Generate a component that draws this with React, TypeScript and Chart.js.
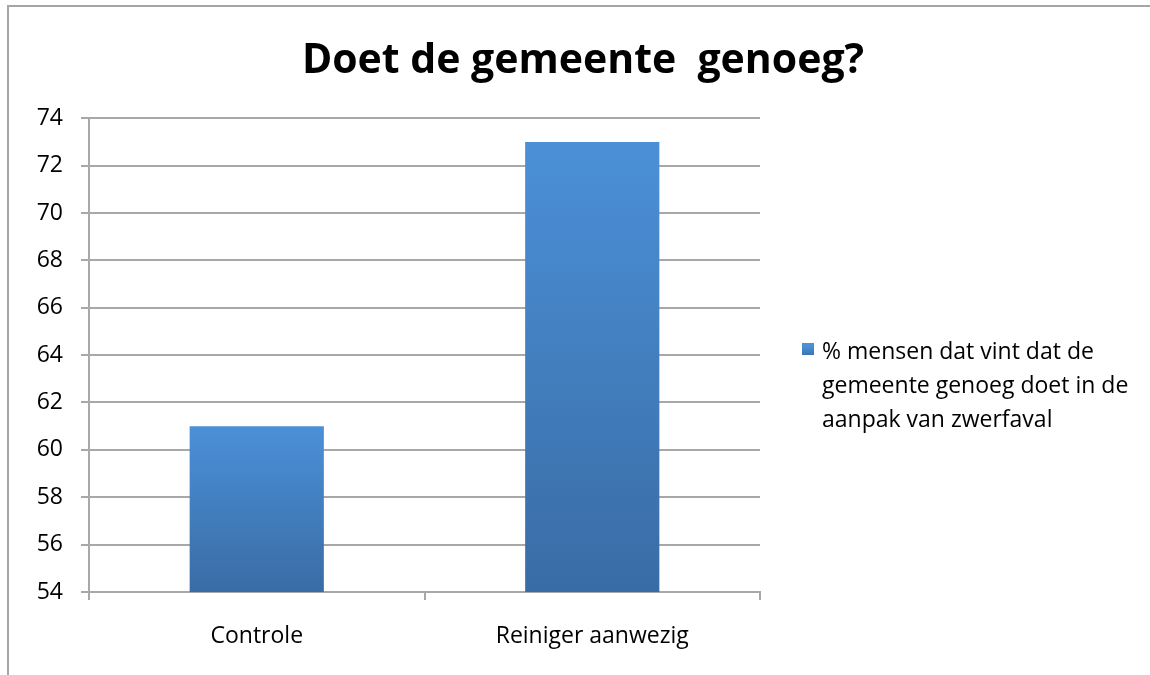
import React, { useEffect, useRef } from "react";
import { Chart, registerables } from "chart.js";

Chart.register(...registerables);

const categories = ["Controle", "Reiniger aanwezig"];
const seriesLabel = ["% mensen dat vint dat de", "gemeente genoeg doet in de", "aanpak van zwerfaval"];
const seriesValues = [61, 73];
const titleText = "Doet de gemeente  genoeg?";
const yMin = 54;
const yMax = 74;
const yStep = 2;

const FONT = "'Open Sans', Lato, sans-serif";
const TOP_COLOR = "#4b90d7";
const BOTTOM_COLOR = "#396ca5";
const GRID = "#a8a8a8";

const legendPlugin = {
  id: "wrappedLegend",
  afterDraw(chart: any) {
    const { ctx, chartArea } = chart;
    const x = chartArea.right + 42;
    const y0 = 352;
    ctx.save();
    const g = ctx.createLinearGradient(0, y0 - 6, 0, y0 + 6);
    g.addColorStop(0, TOP_COLOR);
    g.addColorStop(1, BOTTOM_COLOR);
    ctx.fillStyle = g;
    ctx.fillRect(x, y0 - 9, 12, 12);
    ctx.fillStyle = "#000";
    ctx.font = `23px ${FONT}`;
    ctx.textBaseline = "middle";
    ctx.textAlign = "left";
    seriesLabel.forEach((line, i) => {
      ctx.fillText(line, x + 20, y0 + i * 34);
    });
    ctx.restore();
  },
};

export default function App() {
  const ref = useRef<HTMLCanvasElement | null>(null);
  useEffect(() => {
    if (!ref.current) return;
    const chart = new Chart(ref.current, {
      type: "bar",
      data: {
        labels: categories,
        datasets: [
          {
            label: seriesLabel.join(" "),
            data: seriesValues,
            categoryPercentage: 1,
            barPercentage: 0.4,
            backgroundColor: (c: any) => {
              const ch = c.chart;
              const s = ch.scales && ch.scales.y;
              if (!ch.chartArea || !s || c.raw == null) return TOP_COLOR;
              const yt = s.getPixelForValue(c.raw);
              const yb = s.getPixelForValue(yMin);
              if (!isFinite(yt) || !isFinite(yb) || yt === yb) return TOP_COLOR;
              const g = ch.ctx.createLinearGradient(0, yt, 0, yb);
              g.addColorStop(0, TOP_COLOR);
              g.addColorStop(1, BOTTOM_COLOR);
              return g;
            },
            borderWidth: 0,
          },
        ],
      },
      options: {
        responsive: false,
        animation: false,
        layout: { padding: { left: 16, right: 0, top: 0, bottom: 0 } },
        plugins: {
          legend: { display: false },
          tooltip: { enabled: false },
          title: {
            display: true,
            text: titleText,
            color: "#000",
            font: { family: FONT, size: 41, weight: "bold", lineHeight: 1.2 },
            padding: { top: 37, bottom: 32 },
          },
        },
        scales: {
          x: {
            offset: true,
            grid: {
              display: true,
              offset: true,
              drawOnChartArea: false,
              drawTicks: true,
              tickLength: 8,
              color: GRID,
              lineWidth: 2,
            },
            border: { display: true, color: GRID, width: 2 },
            ticks: {
              color: "#000",
              font: { family: FONT, size: 23 },
              padding: 23,
              maxRotation: 0,
            },
            afterFit: (s: any) => {
              s.height = 83;
            },
          },
          y: {
            min: yMin,
            max: yMax,
            grid: {
              color: GRID,
              lineWidth: 2,
              tickLength: 8,
              drawTicks: true,
            },
            border: { display: true, color: GRID, width: 2 },
            ticks: {
              stepSize: yStep,
              color: "#000",
              font: { family: FONT, size: 23 },
              padding: 18,
            },
            afterFit: (s: any) => {
              s.width = 73;
            },
          },
          y2: {
            position: "right",
            display: true,
            grid: { display: false },
            border: { display: false },
            ticks: { display: false },
            afterFit: (s: any) => {
              s.width = 390;
            },
          },
        },
      },
      plugins: [legendPlugin],
    } as any);
    return () => chart.destroy();
  }, []);
  return (
    <div style={{ position: "fixed", left: 0, top: 0, width: 1150, height: 675, overflow: "hidden", background: "#fff" }}>
      <div
        style={{
          position: "absolute",
          left: 7,
          top: 5,
          width: 1200,
          height: 700,
          borderLeft: "2px solid #a5a5a5",
          borderTop: "2px solid #a5a5a5",
        }}
      />
      <canvas ref={ref} width={1150} height={675} style={{ position: "absolute", left: 0, top: 0, width: 1150, height: 675 }} />
    </div>
  );
}
